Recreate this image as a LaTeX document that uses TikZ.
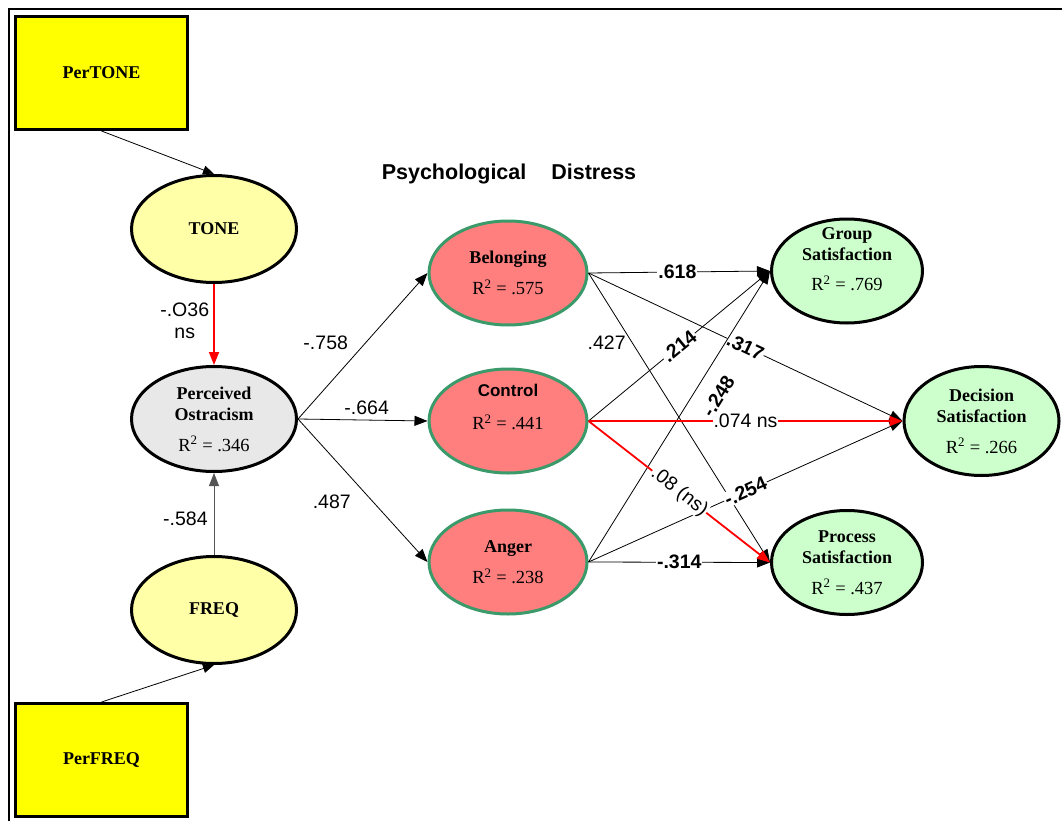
\documentclass[tikz,border=0pt]{standalone}
\usepackage{fontspec}
\setmainfont{Liberation Serif}
\setsansfont{Liberation Sans}
\usetikzlibrary{arrows.meta,shapes.geometric}

\definecolor{boxyellow}{HTML}{FFFF00}
\definecolor{paleyellow}{HTML}{FFFFA8}
\definecolor{palegrey}{HTML}{E8E8E8}
\definecolor{salmon}{HTML}{FF7F7F}
\definecolor{rimgreen}{HTML}{3A9A6A}
\definecolor{mint}{HTML}{CCFFCC}
\definecolor{pathgrey}{HTML}{555555}

\newcommand\namefont{\fontsize{18}{21.5}\selectfont\bfseries}
\newcommand\rsqfont{\fontsize{18.5}{21.5}\selectfont}
\newcommand\coeffont{\sffamily\fontsize{19.5}{22}\selectfont}

\tikzset{
  exobox/.style={draw, line width=3pt, fill=boxyellow, minimum width=172pt,
    minimum height=113pt, inner sep=0pt, font=\namefont},
  latent/.style={ellipse, draw, line width=3pt, inner sep=0pt, align=center,
    minimum width=165pt, minimum height=107pt, font=\namefont},
  yellowlat/.style={latent, fill=paleyellow},
  greylat/.style={latent, fill=palegrey, minimum height=105pt},
  distress/.style={latent, draw=rimgreen, fill=salmon, minimum width=158pt,
    minimum height=104pt},
  outcome/.style={latent, fill=mint, minimum width=151pt, minimum height=104pt},
  inner text/.style={align=center, inner sep=0pt, font=\namefont},
  path/.style={line width=0.8pt, -{Triangle[length=13pt,width=10pt]}},
  nspath/.style={path, draw=red, line width=1.8pt},
  coef/.style={font=\coeffont, inner sep=1pt},
  coefbox/.style={coef, fill=white},
  boldcoef/.style={coefbox, font=\coeffont\bfseries},
}

\begin{document}
\begin{tikzpicture}[x=1pt, y=-1pt]
  \useasboundingbox (0,0) rectangle (1062,821);
  % frame on the left and top
  \draw[line width=2.5pt] (9,821) -- (9,9) -- (1062,9);

  % observed indicators
  \node[exobox] (pertone) at (101.5,73) {PerTONE};
  \node[exobox] (perfreq) at (101.5,760) {PerFREQ};

  % predictors and mediator
  \node[yellowlat] (tone) at (214,229) {TONE};
  \node[yellowlat] (freq) at (214,610) {FREQ};
  \node[greylat] (po) at (214,419)
    {Perceived\\Ostracism\\[9pt]{\rsqfont\mdseries R\textsuperscript{2} = .346}};

  % psychological distress
  \node[font=\sffamily\bfseries\fontsize{21.5}{25}\selectfont] (title) at (509,174)
    {Psychological\hspace{25pt}Distress};
  \node[distress] (bel) at (508,273)
    {Belonging\\[10pt]{\rsqfont\mdseries R\textsuperscript{2} = .575}};
  \node[distress] (ctl) at (508,421) {};
  \node[inner text] (ctl-text) at ([yshift=14pt]ctl.center)
    {{\sffamily\bfseries\fontsize{17}{21.5}\selectfont Control}\\[12pt]{\rsqfont\mdseries R\textsuperscript{2} = .441}};
  \node[distress] (ang) at (508,562)
    {Anger\\[10pt]{\rsqfont\mdseries R\textsuperscript{2} = .238}};

  % satisfaction outcomes
  \node[outcome] (grp) at (847,271) {};
  \node[inner text] (grp-text) at ([yshift=12pt]grp.center)
    {Group\\Satisfaction\\[8pt]{\rsqfont\mdseries R\textsuperscript{2} = .769}};
  \node[outcome, minimum width=155pt, minimum height=109pt] (dec) at (981.5,421)
    {Decision\\Satisfaction\\[9pt]{\rsqfont\mdseries R\textsuperscript{2} = .266}};
  \node[outcome] (proc) at (847,562.5)
    {Process\\Satisfaction\\[9pt]{\rsqfont\mdseries R\textsuperscript{2} = .437}};

  % indicator paths
  \draw[path, -{Triangle[length=11pt,width=9pt]}] (pertone.south) -- (tone.north);
  \draw[path, -{Triangle[length=11pt,width=9pt]}] (perfreq.north) -- (freq.south);

  % paths into perceived ostracism
  \draw[nspath] (tone) -- (po)
    node[coef, pos=0.45, left=3pt, align=center] {-.O36\\ns};
  \draw[path, draw=pathgrey] (freq) -- (po)
    node[coef, pos=0.44, left=5pt] {-.584};

  % perceived ostracism to distress
  \draw[path] (po.east) -- (bel.west) node[coef, pos=0.52, left=16pt] {-.758};
  \draw[path] (po.east) -- (ctl.west) node[coef, pos=0.53, above=4pt] {-.664};
  \draw[path] (po.east) -- (ang.west) node[coef, pos=0.58, left=21pt] {.487};

  % belonging to outcomes
  \draw[path] (bel.east) -- (grp.west) node[boldcoef, pos=0.49] {.618};
  \draw[path] (bel.east) -- (dec.west) node[boldcoef, sloped, pos=0.5] {.317};
  \draw[path] (bel.east) -- (proc.west) node[coef, pos=0.24, left=5pt] {.427};

  % anger to outcomes
  \draw[path] (ang.east) -- (grp.west)
    node[coef, font=\coeffont\bfseries, sloped, pos=0.61, below=14pt] {-.248};
  \draw[path] (ang.east) -- (dec.west) node[boldcoef, sloped, pos=0.5] {-.254};
  \draw[path] (ang.east) -- (proc.west) node[boldcoef, pos=0.5] {-.314};

  % control to outcomes
  \draw[path] (ctl.east) -- (grp.west) node[boldcoef, sloped, pos=0.5] {.214};
  \draw[nspath] (ctl.east) -- (dec.west) node[coefbox, pos=0.5] {.074 ns};
  \draw[nspath] (ctl.east) -- (proc.west) node[coefbox, sloped, pos=0.5] {.08 (ns)};
\end{tikzpicture}
\end{document}
